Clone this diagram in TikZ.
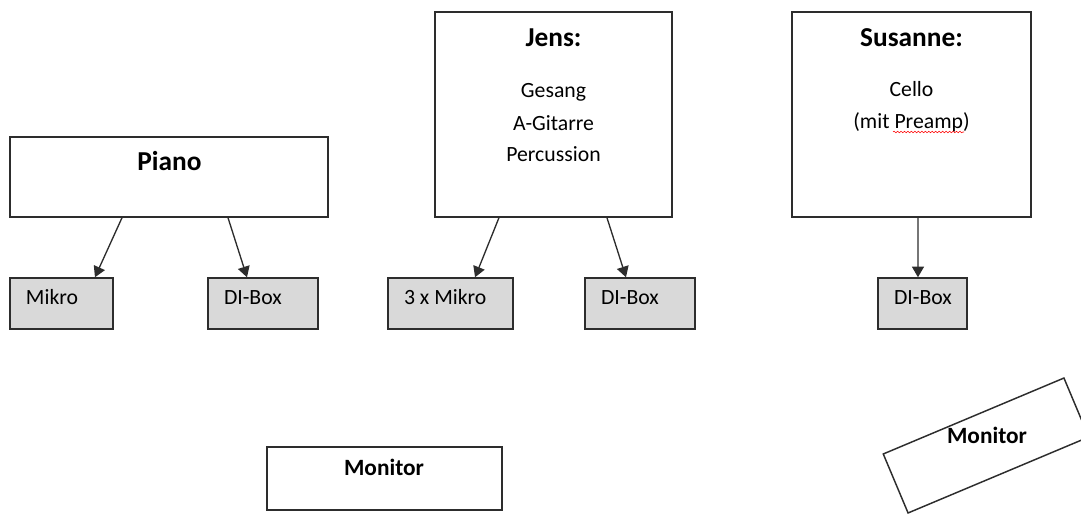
\documentclass[tikz,border=0pt]{standalone}
\usepackage{fontspec}
\setmainfont{Carlito}
\usetikzlibrary{arrows.meta,decorations.pathmorphing}
\definecolor{boxgray}{RGB}{217,217,217}
\definecolor{lineblack}{RGB}{45,45,45}
\newcommand{\headfont}{\fontsize{20.5}{24}\selectfont\bfseries}
\newcommand{\bodyfont}{\fontsize{16.3}{20}\selectfont}
\newcommand{\gearpad}{\hspace*{12pt}}
\begin{document}
\begin{tikzpicture}[x=0.75pt,y=0.75pt,yscale=-1,xscale=1,
  playerbox/.style={draw=lineblack,line width=1.1pt,fill=white,rectangle,inner sep=0pt},
  gearbox/.style={draw=lineblack,line width=1.1pt,fill=boxgray,rectangle,inner sep=0pt,
    minimum height=38.25pt,align=flush left,text height=11pt,text depth=9pt,font=\bodyfont},
  headtext/.style={anchor=base,font=\headfont},
  bodytext/.style={anchor=base,font=\bodyfont},
  feed/.style={draw=lineblack,line width=1pt,-{Triangle[length=8pt,width=9pt]}}]
\useasboundingbox (0,0) rectangle (1081,517);
\clip (0,0) rectangle (1081,517);

%Shape: Rectangle [piano]
\node [playerbox,minimum width=238.5pt,minimum height=60pt] (piano) at (169,177) {};
%Shape: Rectangle [jens]
\node [playerbox,minimum width=177.75pt,minimum height=153.75pt] (jens) at (553.5,114.5) {};
%Shape: Rectangle [susanne]
\node [playerbox,minimum width=179.25pt,minimum height=153.75pt] (susanne) at (911.5,114.5) {};
%Shape: Rectangle [monitor]
\node [playerbox,minimum width=176.25pt,minimum height=47.25pt] (monitorA) at (384.5,478.5) {};
%Shape: Rectangle [monitor, gedreht]
\node [playerbox,fill=none,minimum width=147pt,minimum height=48pt,rotate=22.8] (monitorB) at (986,445.5) {};

%Shape: Rectangle [mikro / di]
\node [gearbox,text width=77.25pt] (mikroP) at (61.5,303.5) {\gearpad Mikro};
\node [gearbox,text width=82.5pt] (diP) at (263,303.5) {\gearpad DI-Box};
\node [gearbox,text width=93.75pt] (mikroJ) at (450.5,303.5) {\gearpad 3 x Mikro};
\node [gearbox,text width=82.5pt] (diJ) at (640,303.5) {\gearpad DI-Box};
\node [gearbox,text width=66.75pt] (diS) at (922.5,303.5) {\gearpad DI-Box};

% Text Node
\node [headtext] (pianoT) at (169.5,170) {Piano};
% Text Node
\node [headtext] (jensT) at (553.5,47) {Jens:};
% Text Node
\node [bodytext] (gesang) at (553.5,98) {Gesang};
\node [bodytext] (gitarre) at (553.5,130) {A-Gitarre};
\node [bodytext] (perc) at (553.5,161) {Percussion};
% Text Node
\node [headtext] (susanneT) at (911.5,47) {Susanne:};
% Text Node
\node [bodytext] (cello) at (911.5,97) {Cello};
\node [bodytext] (preamp) at (911.5,128) {(mit Preamp)};
% Text Node
\node [anchor=base,font=\fontsize{17.5}{20}\selectfont\bfseries] (monitorAT) at (384,475) {Monitor};
% Text Node
\node [anchor=base,font=\fontsize{17.5}{20}\selectfont\bfseries] (monitorBT) at (987,443) {Monitor};

%Shape: Wavy Line
\draw [red,line width=0.4pt,decorate,decoration={snake,amplitude=0.6pt,segment length=2.6pt}] (893,132) -- (964,132);

%Arrows
\draw [feed] ([xshift=-35.25pt]piano.south) -- ([xshift=25.1pt]mikroP.north);
\draw [feed] ([xshift=44.25pt]piano.south) -- ([xshift=-12pt]diP.north);
\draw [feed] ([xshift=-40.9pt]jens.south) -- ([xshift=18.4pt]mikroJ.north);
\draw [feed] ([xshift=40.1pt]jens.south) -- ([xshift=-10.5pt]diJ.north);
\draw [feed] ([xshift=4.9pt]susanne.south) -- ([xshift=-3.4pt]diS.north);

\end{tikzpicture}
\end{document}
